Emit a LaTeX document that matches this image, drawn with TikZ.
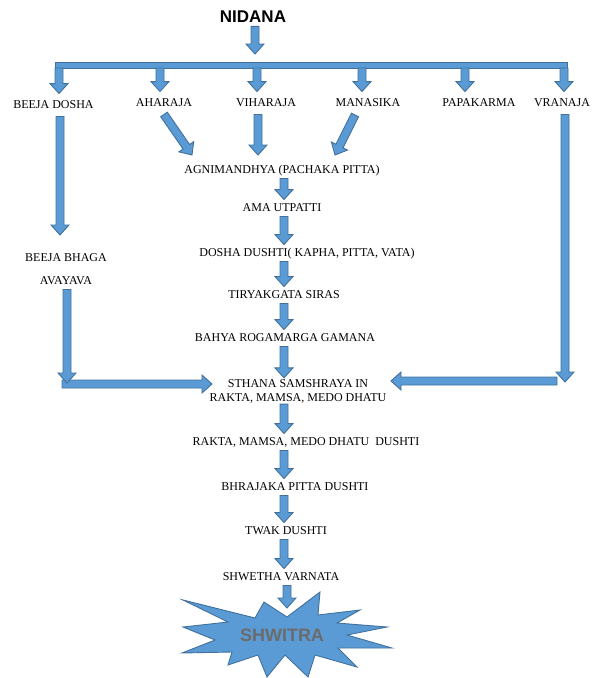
\documentclass[tikz,border=0pt]{standalone}
\usepackage{fontspec}
\setmainfont{Liberation Serif}
\newfontfamily\headfont{Liberation Sans}
\usetikzlibrary{calc}

\definecolor{arrfill}{HTML}{5B9BD5}
\definecolor{arrline}{HTML}{41719C}
\definecolor{burstgray}{HTML}{6B6B6B}

\tikzset{
	lbl/.style={font=\fontsize{12}{14}\selectfont, inner xsep=1pt, inner ysep=3pt, text height=8.5pt, text depth=2pt},
	toplbl/.style={lbl, inner ysep=6pt},
	blockarrow/.style={fill=arrfill, draw=arrline, line width=0.9pt, line join=miter},
}

% block arrow from #1 to #2 (shaft 8, head 18 wide, 10 long)
\newcommand{\blockarr}[2]{%
	\draw[blockarrow] let \p1=($#2-#1$), \n1={atan2(\y1,\x1)}, \n2={veclen(\x1,\y1)-10} in
		($#1+(\n1+90:4)$) -- ++(\n1:\n2) -- ++(\n1+90:5) -- #2
		-- ($#1+(\n1:\n2)+(\n1-90:9)$) -- ++(\n1+90:5) -- ($#1+(\n1-90:4)$) -- cycle;}

\begin{document}
\begin{tikzpicture}[x=1pt, y=1pt]
		\useasboundingbox (0,0) rectangle (603,-678);
		% causes
		\node[font=\headfont\bfseries\fontsize{17}{20}\selectfont] (nidana) at (253,-17) {NIDANA};
		\node[toplbl] (beeja) at (53.5,-105) {BEEJA DOSHA};
		\node[toplbl] (ahara) at (164,-103) {AHARAJA};
		\node[toplbl] (vihara) at (266,-103) {VIHARAJA};
		\node[toplbl] (manas) at (368,-103) {MANASIKA};
		\node[toplbl] (papa) at (479,-103) {PAPAKARMA};
		\node[toplbl] (vrana) at (562,-103) {VRANAJA};
		\node[lbl] (bhaga) at (66,-258) {BEEJA BHAGA};
		\node[lbl] (avayava) at (66,-281) {AVAYAVA};
		% samprapti chain
		\node[lbl] (agni) at (282,-170) {AGNIMANDHYA (PACHAKA PITTA)};
		\node[lbl] (ama) at (282,-208) {AMA UTPATTI};
		\node[lbl] (dosha) at (307,-253) {DOSHA DUSHTI( KAPHA, PITTA, VATA)};
		\node[lbl] (tiryak) at (284,-295) {TIRYAKGATA SIRAS};
		\node[lbl] (bahya) at (285,-338) {BAHYA ROGAMARGA GAMANA};
		\node[font=\fontsize{12}{14}\selectfont, align=center, inner sep=1pt] (sthana) at (298,-391)
			{STHANA SAMSHRAYA IN\\RAKTA, MAMSA, MEDO DHATU};
		\node[lbl] (rmd) at (306,-442) {RAKTA, MAMSA, MEDO DHATU\ \ DUSHTI};
		\node[lbl] (bhraja) at (295,-487) {BHRAJAKA PITTA DUSHTI};
		\node[lbl] (twak) at (286,-531) {TWAK DUSHTI};
		\node[lbl] (shwetha) at (281,-577) {SHWETHA VARNATA};

		% top bar
		\coordinate (bartop) at (255,-54);
		\coordinate (bar) at (0,-68);
		\blockarr{(nidana.south -| bartop)}{(bartop)}
		\draw[blockarrow] (55,-62) rectangle (567,-68);
		\foreach \ax/\nm in {59/beeja,160/ahara,257/vihara,362/manas,465/papa,564/vrana}
			{\blockarr{(bar -| \ax,0)}{(\nm.north -| \ax,0)}}

		% into agnimandhya
		\coordinate (aL) at (192,-155);
		\coordinate (aM) at (258,-155);
		\coordinate (aR) at (335,-155);
		\coordinate (mS) at (355,-115);
		\blockarr{(ahara.south)}{(aL)}
		\blockarr{(vihara.south -| aM)}{(aM)}
		\blockarr{(mS)}{(aR)}

		% down the middle
		\coordinate (spine) at (284,0);
		\blockarr{(agni.south -| spine)}{(ama.north -| spine)}
		\blockarr{(ama.south -| spine)}{(dosha.north -| spine)}
		\blockarr{(dosha.south -| spine)}{(tiryak.north -| spine)}
		\blockarr{(tiryak.south -| spine)}{(bahya.north -| spine)}
		\blockarr{(bahya.south -| spine)}{(sthana.north -| spine)}
		\blockarr{(sthana.south -| spine)}{(rmd.north -| spine)}
		\blockarr{(rmd.south -| spine)}{(bhraja.north -| spine)}
		\blockarr{(bhraja.south -| spine)}{(twak.north -| spine)}
		\blockarr{(twak.south -| spine)}{(shwetha.north -| spine)}

		% beeja dosha side
		\coordinate (bT) at (60,-235);
		\blockarr{(beeja.south -| bT)}{(bT)}
		\coordinate (lstart) at (62,-384);
		\coordinate (ltip) at (212,-384);
		\coordinate (lcorner) at (67,-383);
		\blockarr{(lstart)}{(ltip)}
		\blockarr{(avayava.south -| lcorner)}{(lcorner)}

		% vranaja side
		\coordinate (rstart) at (557,-381);
		\coordinate (rtip) at (391,-381);
		\coordinate (rcorner) at (565,-382);
		\blockarr{(rstart)}{(rtip)}
		\blockarr{(vrana.south -| rcorner)}{(rcorner)}

		% shwitra burst
		\draw[blockarrow] (183,-600) -- (255,-618) -- (264,-602) -- (287,-617) -- (320,-592)
			-- (318,-615) -- (360,-610) -- (337,-623) -- (387,-627) -- (347,-635)
			-- (392,-648) -- (338,-648) -- (357,-667) -- (315,-655) -- (308,-677)
			-- (285,-655) -- (267,-677) -- (258,-655) -- (228,-665) -- (232,-652)
			-- (182,-653) -- (215,-640) -- (183,-627) -- (228,-622) -- cycle;
		\node[font=\headfont\bfseries\fontsize{18}{20}\selectfont, text=burstgray] (shwitra) at (282,-635) {SHWITRA};
		\coordinate (sT) at (287,-608);
		\blockarr{(shwetha.south -| sT)}{(sT)}
	\end{tikzpicture}
\end{document}
